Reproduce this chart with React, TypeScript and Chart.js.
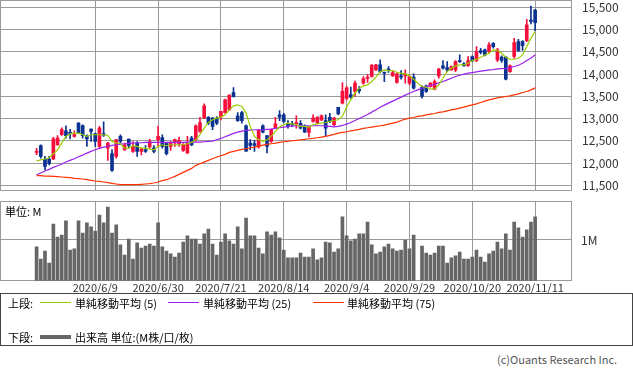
import React, { useEffect, useRef } from 'react';
import { Chart, registerables } from 'chart.js';
Chart.register(...registerables);

const dates = [
  '2020/5/20','2020/5/21','2020/5/22','2020/5/25','2020/5/26','2020/5/27','2020/5/28','2020/5/29',
  '2020/6/1','2020/6/2','2020/6/3','2020/6/4','2020/6/5','2020/6/8','2020/6/9','2020/6/10','2020/6/11','2020/6/12',
  '2020/6/15','2020/6/16','2020/6/17','2020/6/18','2020/6/19','2020/6/22','2020/6/23','2020/6/24','2020/6/25','2020/6/26',
  '2020/6/29','2020/6/30',
  '2020/7/1','2020/7/2','2020/7/3','2020/7/6','2020/7/7','2020/7/8','2020/7/9','2020/7/10','2020/7/13','2020/7/14',
  '2020/7/15','2020/7/16','2020/7/17','2020/7/20','2020/7/21','2020/7/22','2020/7/27','2020/7/28','2020/7/29','2020/7/30','2020/7/31',
  '2020/8/3','2020/8/4','2020/8/5','2020/8/6','2020/8/7','2020/8/11','2020/8/12','2020/8/13','2020/8/14',
  '2020/8/17','2020/8/18','2020/8/19','2020/8/20','2020/8/21','2020/8/24','2020/8/25','2020/8/26','2020/8/27','2020/8/28','2020/8/31',
  '2020/9/1','2020/9/2','2020/9/3','2020/9/4','2020/9/7','2020/9/8','2020/9/9','2020/9/10','2020/9/11',
  '2020/9/14','2020/9/15','2020/9/16','2020/9/17','2020/9/18','2020/9/23','2020/9/24','2020/9/25','2020/9/28','2020/9/29','2020/9/30',
  '2020/10/1','2020/10/2','2020/10/5','2020/10/6','2020/10/7','2020/10/8','2020/10/9','2020/10/12','2020/10/13','2020/10/14',
  '2020/10/15','2020/10/16','2020/10/19','2020/10/20','2020/10/21','2020/10/22','2020/10/23','2020/10/26','2020/10/27',
  '2020/10/28','2020/10/29','2020/10/30',
  '2020/11/2','2020/11/4','2020/11/5','2020/11/6','2020/11/9','2020/11/10','2020/11/11',
];

const open = [
  12240,12395,12090,12090,12090,12410,12640,12725,12690,12600,12900,12840,12600,12765,12660,12375,12665,12335,12210,12150,
  12600,12300,12540,12260,12450,12260,12300,12360,12335,12525,12575,12435,12375,12450,12435,12285,12225,12560,12525,12710,
  13010,13030,13010,13010,13030,13135,13195,13585,13060,13135,12835,12450,12435,12360,12835,12615,12485,12785,13085,13085,
  12895,12880,12880,12895,12835,12690,12935,12910,12970,12955,13030,12860,13255,13345,13450,13540,13610,13660,13795,13900,
  13945,14095,14205,14035,14110,13960,13810,13960,13960,13795,13930,null,13705,13735,13720,13660,13960,14185,14145,14095,
  14095,14305,14230,14190,14395,14305,14530,14545,14505,14690,14320,14380,14380,14055,14395,14730,14730,14750,15215,15440,
];
const high = [
  12330,12410,12150,12150,12580,12620,12790,12835,12760,12725,12910,12860,12635,12770,12675,12825,12925,12465,12300,12530,
  12635,12450,12540,12485,12485,12335,12390,12540,12390,12825,12635,12450,12485,12540,12585,12435,12600,12600,12860,13030,
  13330,13045,13030,13045,13160,13435,13535,13695,13135,13160,12860,12525,12510,12750,12860,12615,12765,13030,13180,13120,
  12955,12935,13060,12955,12860,12825,13085,13045,13085,13085,13120,13030,13255,13810,13720,13705,13845,13720,13945,13990,
  14215,14220,14320,14035,14170,14080,14020,14080,14095,13960,14005,null,13735,13755,13810,13870,14130,14305,14280,14185,
  14305,14430,14260,14395,14410,14615,14580,14560,14705,14705,14580,14410,14395,14205,14805,14780,14750,15230,15530,15455,
];
const low = [
  12190,12110,11850,11960,12075,12400,12620,12560,12540,12580,12660,12560,12375,12485,12375,12335,12600,12060,11810,12110,
  12450,12285,12335,12240,12150,12185,12240,12335,12225,12375,12335,12185,12285,12375,12375,12260,12210,12390,12485,12690,
  12995,12860,12750,12860,12970,13120,13180,13480,12935,12895,12260,12300,12260,12335,12675,12225,12465,12785,12955,12910,
  12785,12825,12785,12765,12690,12585,12920,12880,12955,12600,12910,12835,13085,13330,13420,13460,13495,13570,13775,13810,
  13930,14080,14035,13830,14035,13945,13795,13885,13795,13755,13660,null,13460,13585,13705,13645,13905,14110,14055,14080,
  14055,14260,14170,14170,14280,14280,14455,14410,14470,14580,14280,14260,13870,14035,14355,14505,14530,14730,15125,14975,
];
const close = [
  12260,12150,11925,11985,12545,12560,12750,12615,12660,12640,12675,12615,12540,12710,12485,12785,12630,12450,11835,12525,
  12485,12410,12395,12375,12260,12315,12260,12485,12260,12600,12375,12210,12465,12525,12510,12410,12450,12410,12835,12910,
  13285,12895,12825,12895,13160,13420,13530,13495,12955,12955,12265,12395,12395,12735,12695,12375,12750,12880,13030,12935,
  12825,12860,12910,12785,12695,12810,13010,13030,13060,12785,12935,13010,13105,13610,13690,13480,13795,13620,13900,13930,
  14200,14205,14055,14020,14080,14035,14005,13930,14005,13945,13685,null,13495,13610,13795,13830,14110,14130,14095,14170,
  14280,14280,14190,14305,14295,14505,14485,14430,14655,14615,14545,14305,13885,14185,14705,14530,14640,15105,15185,15155,
];

const ma5 = [
  12050,12070,12090,12120,12209,12299,12449,12598,12658,12673,12673,12636,12598,12636,12636,12636,12636,12620,12486,12449,
  12434,12337,12337,12389,12374,12337,12337,12314,12299,12374,12411,12389,12411,12411,12411,12411,12434,12464,12523,12636,
  12785,12912,12972,13010,13032,13084,13196,13286,13309,13271,13122,12823,12598,12523,12486,12523,12598,12710,12808,12860,
  12897,12882,12860,12823,12823,12808,12860,12882,12897,12912,12935,12957,12972,13047,13260,13421,13570,13683,13735,13757,
  13832,13929,14056,14094,14079,14079,14041,14019,14004,13959,13884,13795,13720,13705,13660,13660,13757,13907,14056,14131,
  14184,14206,14206,14243,14303,14333,14378,14430,14468,14543,14528,14468,14378,14333,14333,14356,14430,14617,14804,14954,
];
const ma25 = [
  11738,11776,11821,11858,11903,11940,11978,12022,12060,12097,12142,12179,12224,12262,12299,12329,12359,12374,12396,12411,
  12426,12434,12441,12449,12456,12456,12464,12464,12464,12464,12464,12464,12464,12464,12464,12464,12471,12471,12471,12471,
  12479,12486,12494,12523,12553,12591,12628,12666,12695,12718,12733,12740,12748,12748,12748,12755,12763,12778,12793,12808,
  12823,12830,12838,12838,12838,12838,12838,12838,12838,12830,12823,12815,12823,12845,12875,12912,12957,13002,13047,13092,
  13144,13196,13256,13301,13346,13391,13436,13481,13526,13570,13608,13645,13683,13712,13742,13772,13802,13832,13870,13907,
  13944,13974,13997,14019,14034,14049,14064,14079,14094,14101,14116,14124,14131,14146,14169,14199,14243,14303,14363,14430,
];
const ma75 = [
  11716,11716,11708,11708,11701,11693,11686,11678,11671,11656,11649,11641,11626,11611,11596,11589,11574,11559,11544,11529,
  11514,11514,11514,11514,11514,11521,11529,11536,11551,11574,11604,11626,11663,11701,11746,11791,11835,11880,11948,11985,
  12022,12060,12097,12135,12165,12194,12239,12262,12284,12307,12322,12344,12359,12381,12404,12419,12434,12449,12464,12479,
  12494,12501,12509,12523,12531,12546,12553,12568,12583,12598,12621,12643,12673,12688,12703,12725,12740,12755,12778,12793,
  12808,12823,12838,12853,12875,12897,12920,12957,12987,13010,13024,13047,13062,13084,13099,13114,13137,13152,13174,13196,
  13211,13234,13256,13286,13309,13331,13361,13391,13421,13443,13466,13481,13496,13511,13533,13555,13585,13608,13645,13690,
];

const volume = [
  0.83,0.53,0.73,0.43,1.39,1.07,1.12,1.47,0.75,0.78,1.47,1.17,1.42,1.32,1.22,1.61,1.42,1.81,1.17,1.37,
  0.88,0.63,1.02,0.53,0.93,0.80,0.85,0.90,0.85,1.42,0.83,0.73,0.66,0.58,0.68,0.95,1.10,1.02,1.02,0.90,
  1.15,1.27,0.90,0.63,0.95,1.15,0.98,0.90,1.32,0.78,1.54,1.10,1.10,0.80,0.66,1.20,1.12,1.20,1.05,0.75,
  0.56,0.56,0.56,0.68,0.58,0.58,0.78,0.51,0.56,0.95,0.93,0.70,0.78,1.57,1.10,0.98,1.02,1.15,1.15,1.44,
  0.88,0.66,0.70,0.83,0.90,0.78,0.73,0.75,1.00,0.78,1.12,null,0.85,0.68,0.63,0.68,0.85,0.85,0.43,0.56,
  0.61,0.70,0.53,0.53,0.58,0.75,0.58,0.46,0.66,0.73,0.95,0.78,1.15,0.75,1.44,1.30,1.07,1.25,1.44,1.57,
];

const tickIndexes = [14, 29, 44, 59, 74, 89, 104, 119];
const priceTicks = [11500, 12000, 12500, 13000, 13500, 14000, 14500, 15000, 15500];
const volumeTicks = [1];
const maLabels = ['単純移動平均 (5)', '単純移動平均 (25)', '単純移動平均 (75)'];
const volumeLabel = '出来高 単位:(M株/口/枚)';

const FONT = '"Noto Sans CJK JP", "Noto Sans", sans-serif';
const GRID = '#9a9a9a';
const UP = '#f5103c';
const DOWN = '#0b3291';
const MA_COLORS = ['#99cc00', '#9922ee', '#ff3300'];
const VOL_COLOR = '#666666';

const framePlugin = {
  id: 'frame',
  beforeDatasetsDraw(chart: any) {
    const { ctx, chartArea: a } = chart;
    ctx.save();
    ctx.strokeStyle = GRID;
    ctx.lineWidth = 1;
    const l = Math.round(a.left) - 0.5;
    const r = Math.round(a.right) - 0.5;
    const t = Math.round(a.top) - 0.5;
    const b = Math.round(a.bottom) - 0.5;
    ctx.strokeRect(l, t, r - l, b - t);
    ctx.restore();
  },
};

const X_MIN = -8.5;
const X_MAX = 127.8;

function isValid(i: number) {
  return open[i] != null && close[i] != null;
}
function colorAt(i: number) {
  if (!isValid(i)) return 'rgba(0,0,0,0)';
  return (close[i] as number) >= (open[i] as number) ? UP : DOWN;
}

export default function App() {
  const priceRef = useRef<HTMLCanvasElement>(null);
  const volRef = useRef<HTMLCanvasElement>(null);

  useEffect(() => {
    document.body.style.margin = '0';
    const idx = dates.map((_, i) => i).filter(isValid);
    const maSets = [ma5, ma25, ma75].map((arr, k) => ({
      type: 'line' as const,
      data: arr.map((v, i) => ({ x: i, y: v })),
      borderColor: MA_COLORS[k],
      borderWidth: 1.2,
      pointRadius: 0,
      tension: 0,
      order: 0,
    }));
    const xScale = (showLabels: boolean, height: number) => ({
      type: 'linear',
      min: X_MIN,
      max: X_MAX,
      offset: false,
      afterBuildTicks: (s: any) => { s.ticks = tickIndexes.map((v) => ({ value: v })); },
      ticks: {
        display: showLabels,
        autoSkip: false,
        maxRotation: 0,
        minRotation: 0,
        padding: 1,
        color: '#333333',
        font: { family: FONT, size: 11 },
        callback: (v: any) => dates[Number(v)] || '',
      },
      grid: { color: GRID, drawTicks: false, lineWidth: 1, offset: false },
      border: { display: false },
      afterFit: (s: any) => { s.height = height; s.paddingLeft = 0; s.paddingRight = 0; },
    });

    const price = new Chart(priceRef.current as HTMLCanvasElement, {
      type: 'bar',
      data: {
        datasets: [
          ...maSets,
          {
            type: 'bar',
            data: idx.map((i) => ({ x: i, y: [Math.min(open[i] as number, close[i] as number), Math.max(open[i] as number, close[i] as number)] })),
            backgroundColor: (c: any) => colorAt(c.raw ? c.raw.x : 0),
            barThickness: 3,
            grouped: false,
            minBarLength: 1,
            borderWidth: 0,
            order: 1,
          } as any,
          {
            type: 'bar',
            data: idx.map((i) => ({ x: i, y: [low[i], high[i]] })),
            backgroundColor: (c: any) => colorAt(c.raw ? c.raw.x : 0),
            barThickness: 1,
            grouped: false,
            borderWidth: 0,
            order: 2,
          } as any,
        ],
      },
      options: {
        animation: false,
        responsive: false,
        devicePixelRatio: 1,
        events: [],
        layout: { padding: { left: 1, top: 1, right: 0, bottom: 1.5 } },
        plugins: { legend: { display: false }, tooltip: { enabled: false } },
        scales: {
          x: xScale(false, 0),
          y: {
            position: 'right',
            min: 11383,
            max: 15642,
            afterBuildTicks: (s: any) => { s.ticks = priceTicks.map((v) => ({ value: v })); },
            ticks: {
              padding: 10,
              color: '#333333',
              font: { family: FONT, size: 12 },
              callback: (v: any) => Number(v).toLocaleString('en-US'),
            },
            grid: { color: GRID, drawTicks: false, lineWidth: 1 },
            border: { display: false },
            afterFit: (s: any) => { s.width = 61; s.paddingTop = 0; s.paddingBottom = 0; },
          },
        },
      } as any,
      plugins: [framePlugin],
    });

    const vol = new Chart(volRef.current as HTMLCanvasElement, {
      type: 'bar',
      data: {
        datasets: [
          {
            data: dates.map((_, i) => ({ x: i, y: volume[i] })),
            backgroundColor: VOL_COLOR,
            barThickness: 3,
            grouped: false,
            borderWidth: 0,
          } as any,
        ],
      },
      options: {
        animation: false,
        responsive: false,
        devicePixelRatio: 1,
        events: [],
        layout: { padding: { left: 1, top: 5.7, right: 0, bottom: 0 } },
        plugins: { legend: { display: false }, tooltip: { enabled: false } },
        scales: {
          x: xScale(true, 15.3),
          y: {
            position: 'right',
            min: 0,
            max: 1.94,
            afterBuildTicks: (s: any) => { s.ticks = volumeTicks.map((v) => ({ value: v })); },
            ticks: {
              padding: 9,
              color: '#333333',
              font: { family: FONT, size: 12 },
              callback: (v: any) => `${v}M`,
            },
            grid: { color: GRID, drawTicks: false, lineWidth: 1 },
            border: { display: false },
            afterFit: (s: any) => { s.width = 61; s.paddingTop = 0; s.paddingBottom = 0; },
          },
        },
      } as any,
      plugins: [framePlugin],
    });

    return () => {
      price.destroy();
      vol.destroy();
    };
  }, []);

  const text = (content: string, left: number, cy: number, extra: any = {}) => (
    <div
      style={{
        position: 'absolute',
        left,
        top: cy - 7,
        height: 14,
        lineHeight: '14px',
        fontSize: 11,
        fontFamily: FONT,
        whiteSpace: 'nowrap',
        color: '#000',
        ...extra,
      }}
    >
      {content}
    </div>
  );
  const swatch = (left: number, cy: number, width: number, color: string, thick: number) => (
    <div style={{ position: 'absolute', left, top: cy - thick / 2, width, height: thick, background: color }} />
  );

  return (
    <div style={{ position: 'relative', width: 633, height: 374, background: '#fff', overflow: 'hidden' }}>
      <canvas ref={priceRef} width={633} height={192} style={{ position: 'absolute', left: 0, top: 0, width: 633, height: 192 }} />
      <canvas ref={volRef} width={633} height={100} style={{ position: 'absolute', left: 0, top: 196, width: 633, height: 100 }} />
      {text('単位: M', 5, 211)}
      <div style={{ position: 'absolute', left: 0, top: 293, width: 631, height: 51, border: '1px solid #444' }} />
      {text('上段:', 8, 302.5)}
      {swatch(40, 302.5, 31, MA_COLORS[0], 1)}
      {text(maLabels[0], 75, 302.5)}
      {swatch(168, 302.5, 31, MA_COLORS[1], 1)}
      {text(maLabels[1], 203, 302.5)}
      {swatch(313, 302.5, 31, MA_COLORS[2], 1)}
      {text(maLabels[2], 347, 302.5)}
      {text('下段:', 8, 337)}
      {swatch(40, 337, 31, VOL_COLOR, 4)}
      {text(volumeLabel, 75, 337)}
      {text('(c)Ouants Research Inc.', 497, 358.5, { color: '#555', fontSize: 11 })}
    </div>
  );
}
